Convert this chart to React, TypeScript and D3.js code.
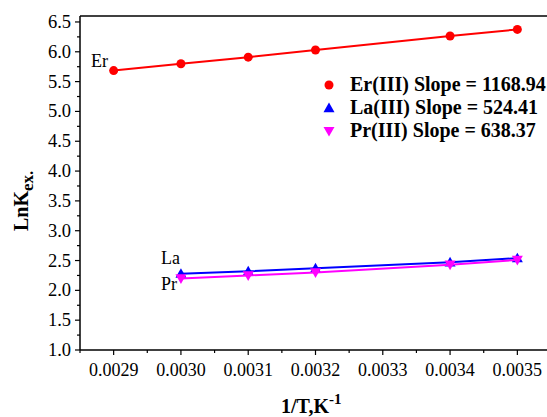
import React from "react";
import * as d3 from "d3";

const xEr = [0.0029, 0.003, 0.0031, 0.0032, 0.0034, 0.0035];
const yEr = [5.685, 5.8, 5.91, 6.03, 6.265, 6.375];
const xLaPr = [0.003, 0.0031, 0.0032, 0.0034, 0.0035];
const yLa = [2.28, 2.32, 2.37, 2.47, 2.54];
const yPr = [2.2, 2.25, 2.3, 2.43, 2.51];
const xTicks = [0.0029, 0.003, 0.0031, 0.0032, 0.0033, 0.0034, 0.0035];
const yTicks = [1.0, 1.5, 2.0, 2.5, 3.0, 3.5, 4.0, 4.5, 5.0, 5.5, 6.0, 6.5];
const legendLabels = ["Er(III) Slope = 1168.94", "La(III) Slope = 524.41", "Pr(III) Slope = 638.37"];

const W = 547, H = 417;
const L = 80, T = 16, B = 350;
const F = "Liberation Serif";

export default function App() {
  const x = d3.scaleLinear().domain([0.00285, 0.00355]).range([L, 551]);
  const y = d3.scaleLinear().domain([1.0, 6.6]).range([B, T]);
  const line = (xs: number[], ys: number[]) =>
    d3.line<number>().x((_, i) => x(xs[i])).y((d) => y(d))(ys) || "";
  const xMinor = d3.range(0.00285, 0.00356, 0.00005).filter((v) => !xTicks.some((t) => Math.abs(t - v) < 1e-7));
  const yMinor = d3.range(1.25, 6.6, 0.5);
  const tri = (cx: number, cy: number, up: boolean, s = 5.5) =>
    up
      ? `M${cx},${cy - s} L${cx + s},${cy + s * 0.75} L${cx - s},${cy + s * 0.75} Z`
      : `M${cx},${cy + s} L${cx + s},${cy - s * 0.75} L${cx - s},${cy - s * 0.75} Z`;

  return (
    <svg width={W} height={H} style={{ position: "absolute", left: 0, top: 0, background: "#fff" }}>
      {/* axes */}
      <line x1={L} y1={T} x2={L} y2={B} stroke="#000" strokeWidth={1.5} />
      <line x1={L} y1={B} x2={W} y2={B} stroke="#000" strokeWidth={1.5} />
      <line x1={L} y1={T} x2={W} y2={T} stroke="#000" strokeWidth={1.5} />
      {yTicks.map((t) => (
        <g key={"y" + t}>
          <line x1={L - 5} x2={L} y1={y(t)} y2={y(t)} stroke="#000" strokeWidth={1.2} />
          <text x={L - 9} y={y(t) + 6} textAnchor="end" fontSize={18.5} fontFamily={F}>{t.toFixed(1)}</text>
        </g>
      ))}
      {yMinor.map((t) => (
        <line key={"ym" + t} x1={L - 3} x2={L} y1={y(t)} y2={y(t)} stroke="#000" strokeWidth={1.2} />
      ))}
      {xTicks.map((t) => (
        <g key={"x" + t}>
          <line x1={x(t)} x2={x(t)} y1={B} y2={B + 5} stroke="#000" strokeWidth={1.2} />
          <text x={x(t)} y={B + 26} textAnchor="middle" fontSize={18} fontFamily={F}>{t.toFixed(4)}</text>
        </g>
      ))}
      {xMinor.map((t) => (
        <line key={"xm" + t} x1={x(t)} x2={x(t)} y1={B} y2={B + 3} stroke="#000" strokeWidth={1.2} />
      ))}
      {/* series */}
      <path d={line(xEr, yEr)} fill="none" stroke="#ff0000" strokeWidth={2} />
      {xEr.map((v, i) => (
        <circle key={"e" + i} cx={x(v)} cy={y(yEr[i])} r={4.5} fill="#ff0000" />
      ))}
      <path d={line(xLaPr, yLa)} fill="none" stroke="#0000ff" strokeWidth={2} />
      {xLaPr.map((v, i) => (
        <path key={"l" + i} d={tri(x(v), y(yLa[i]), true)} fill="#0000ff" />
      ))}
      <path d={line(xLaPr, yPr)} fill="none" stroke="#ff00ff" strokeWidth={2} />
      {xLaPr.map((v, i) => (
        <path key={"p" + i} d={tri(x(v), y(yPr[i]), false)} fill="#ff00ff" />
      ))}
      {/* labels */}
      <text x={91} y={66.5} fontSize={18} fontFamily={F}>Er</text>
      <text x={161} y={264} fontSize={18} fontFamily={F}>La</text>
      <text x={161} y={289.5} fontSize={18} fontFamily={F}>Pr</text>
      {/* legend */}
      {legendLabels.map((s, i) => {
        const ly = 85 + i * 23;
        return (
          <g key={"lg" + i}>
            {i === 0 && <circle cx={329} cy={ly} r={4.5} fill="#ff0000" />}
            {i === 1 && <path d={tri(329, ly, true)} fill="#0000ff" />}
            {i === 2 && <path d={tri(329, ly, false)} fill="#ff00ff" />}
            <text x={350} y={ly + 6} fontSize={20} fontWeight="bold" fontFamily={F}>{s}</text>
          </g>
        );
      })}
      {/* axis titles */}
      <text transform="translate(28,231) rotate(-90)" fontSize={20} fontWeight="bold" fontFamily={F}>
        LnK<tspan dy={5} fontSize={17}>ex.</tspan>
      </text>
      <text x={281} y={413} fontSize={20} fontWeight="bold" fontFamily={F}>
        1/T,K<tspan dy={-9} fontSize={15}>-1</tspan>
      </text>
    </svg>
  );
}
